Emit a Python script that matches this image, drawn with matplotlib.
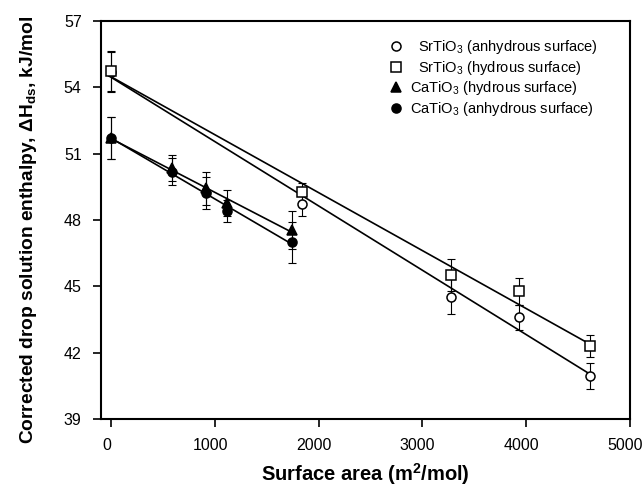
import numpy as np
import matplotlib.pyplot as plt
import matplotlib.transforms as mtransforms

plt.rcParams['font.family'] = ['Liberation Sans', 'DejaVu Sans']
plt.rcParams['mathtext.fontset'] = 'custom'
plt.rcParams['mathtext.rm'] = 'Liberation Sans'
plt.rcParams['mathtext.it'] = 'Liberation Sans:italic'
plt.rcParams['mathtext.bf'] = 'Liberation Sans:bold'

# SrTiO3 data
sr_x = [0, 1835, 3275, 3930, 4620]
sr_anh_y = [54.7, 48.72, 44.53, 43.6, 40.94]
sr_anh_err = [0.9, 0.54, 0.78, 0.57, 0.6]
sr_hyd_y = [54.74, 49.24, 45.51, 44.76, 42.3]
sr_hyd_err = [0.9, 0.45, 0.73, 0.6, 0.5]

# CaTiO3 data
ca_x = [0, 580, 915, 1115, 1741]
ca_hyd_y = [51.69, 50.35, 49.43, 48.75, 47.55]
ca_hyd_err = [0.95, 0.6, 0.75, 0.58, 0.87]
ca_anh_y = [51.69, 50.18, 49.2, 48.42, 46.99]
ca_anh_err = [0.95, 0.6, 0.72, 0.5, 0.92]

labels = [r'  SrTiO$_3$ (anhydrous surface)', r'  SrTiO$_3$ (hydrous surface)',
          r'CaTiO$_3$ (hydrous surface)', r'CaTiO$_3$ (anhydrous surface)']

fig = plt.figure(figsize=(6.44, 4.87), dpi=100)
ax = fig.add_axes([0.157, 0.14, 0.821, 0.817])

series = [
    (sr_x, sr_anh_y, sr_anh_err, 'o', 'white'),
    (sr_x, sr_hyd_y, sr_hyd_err, 's', 'white'),
    (ca_x, ca_hyd_y, ca_hyd_err, '^', 'black'),
    (ca_x, ca_anh_y, ca_anh_err, 'o', 'black'),
]

handles = []
for (x, y, e, m, fc), lab in zip(series, labels):
    x = np.array(x, dtype=float)
    y = np.array(y)
    # regression line
    k, b = np.polyfit(x, y, 1)
    xx = np.array([x.min(), x.max()])
    ax.plot(xx, k * xx + b, color='black', lw=1.2, zorder=2)
    ax.errorbar(x, y, yerr=e, fmt='none', ecolor='black', elinewidth=0.8,
                capsize=3, capthick=0.8, zorder=3)
    h, = ax.plot(x, y, linestyle='none', marker=m, markersize=6.5,
                 markerfacecolor=fc, markeredgecolor='black', markeredgewidth=1.1,
                 label=lab, zorder=4)
    handles.append(h)

ax.set_xlim(-100, 5000)
ax.set_ylim(39, 57)
ax.set_xticks([0, 1000, 2000, 3000, 4000, 5000])
ax.set_yticks([39, 42, 45, 48, 51, 54, 57])
ax.tick_params(direction='out', length=6, width=1.2, labelsize=11.5, pad=8)
for s in ax.spines.values():
    s.set_linewidth(1.5)

# x tick labels sit slightly left of their ticks in the original
shift = mtransforms.ScaledTranslation(-5 / 100, 0, fig.dpi_scale_trans)
for lbl in ax.get_xticklabels():
    lbl.set_transform(lbl.get_transform() + shift)

ax.set_xlabel(r'Surface area (m$^\mathbf{2}$/mol)', fontsize=14.5, fontweight='bold', labelpad=6)
ax.set_ylabel(r'Corrected drop solution enthalpy, $\mathbf{\Delta H_{ds}}$, kJ/mol',
              fontsize=13.8, fontweight='bold')
ax.yaxis.set_label_coords(-0.118, 0.475)

ax.legend(handles=handles, loc='upper right', frameon=False, fontsize=10.5,
          handlelength=1.0, handletextpad=0.5, labelspacing=0.18,
          bbox_to_anchor=(0.965, 0.99))

fig.savefig('out.png', dpi=100)
